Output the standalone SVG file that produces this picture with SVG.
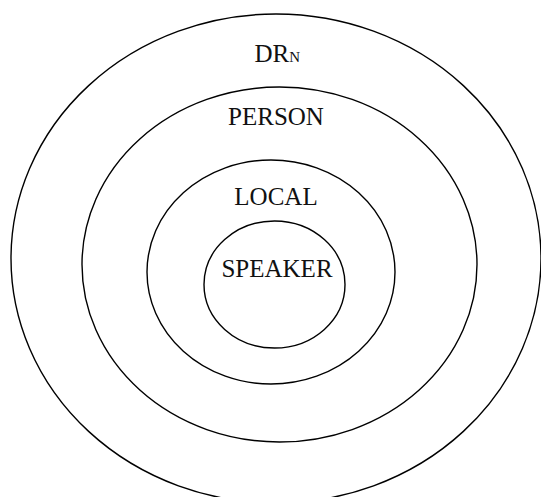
<svg xmlns="http://www.w3.org/2000/svg" width="541" height="497" viewBox="0 0 541 497">
<style>
.ring{fill:none;stroke:#000;stroke-width:1.4}
.lbl{font-family:"Liberation Serif","Times New Roman",serif;font-size:25px;fill:#111}
</style>
<rect width="541" height="497" fill="#fff"/>
<g id="drn"><ellipse class="ring" cx="276" cy="258.5" rx="265" ry="244.5"/><text class="lbl" x="254.5" y="61.5">DR<tspan font-size="15">N</tspan></text></g>
<g id="person"><ellipse class="ring" cx="279.5" cy="264.5" rx="197.5" ry="177.5"/><text class="lbl" x="276" y="125" text-anchor="middle">PERSON</text></g>
<g id="local"><ellipse class="ring" cx="271" cy="272" rx="124" ry="112"/><text class="lbl" x="276" y="205" text-anchor="middle">LOCAL</text></g>
<g id="speaker"><ellipse class="ring" cx="274.5" cy="284.5" rx="70.5" ry="63.5"/><text class="lbl" x="277" y="276.5" text-anchor="middle">SPEAKER</text></g>
<g id="connectors"/>
</svg>
